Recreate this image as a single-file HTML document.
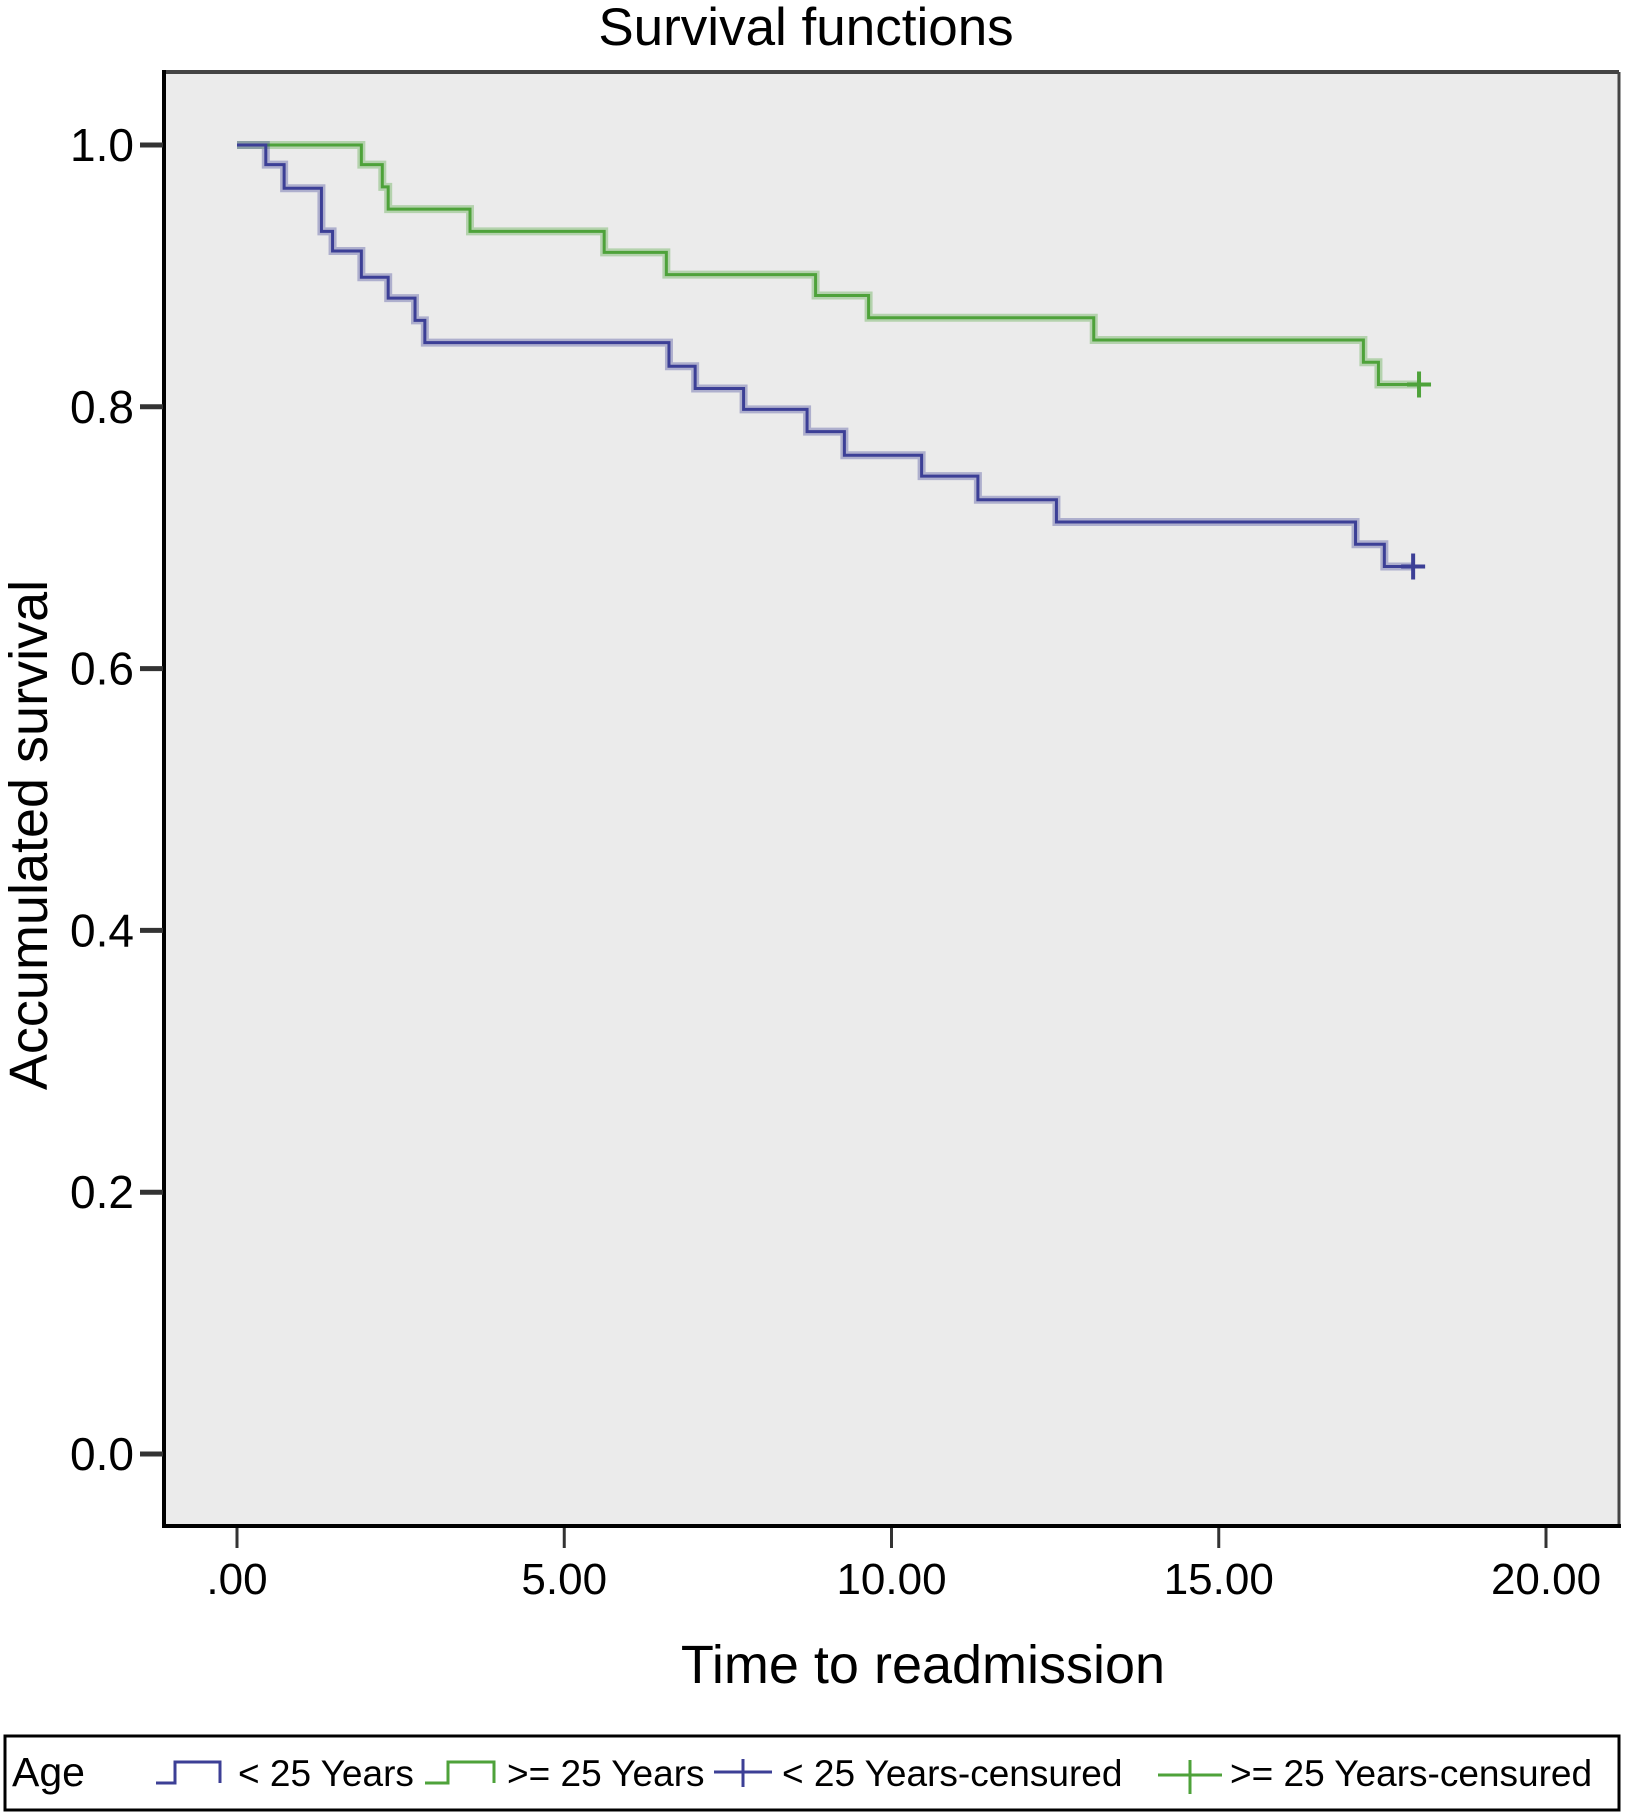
<!DOCTYPE html>
<html><head><meta charset="utf-8"><style>
html,body{margin:0;padding:0;background:#fff;}
svg{display:block;font-family:"Liberation Sans",Arial,sans-serif;}
</style></head><body>
<svg id="chart" width="1625" height="1813" viewBox="0 0 1625 1813" xmlns="http://www.w3.org/2000/svg">
<text x="806" y="45" font-size="53" text-anchor="middle">Survival functions</text>
<rect x="164" y="72" width="1455" height="1454" fill="#ebebeb"/>
<line x1="164" y1="72" x2="1619" y2="72" stroke="#444" stroke-width="4"/>
<line x1="1619" y1="72" x2="1619" y2="1526" stroke="#444" stroke-width="3"/>
<line x1="164" y1="70" x2="164" y2="1528" stroke="#000" stroke-width="4"/>
<line x1="162" y1="1526" x2="1621" y2="1526" stroke="#000" stroke-width="4"/>
<g id="yaxis"></g>
<g id="xaxis"></g>
<g id="series"></g>
<text x="923" y="1683" font-size="54" text-anchor="middle">Time to readmission</text>
<text transform="translate(47,835) rotate(-90)" font-size="54" text-anchor="middle">Accumulated survival</text>
<g>
<rect x="5" y="1736" width="1614" height="74" fill="#fff" stroke="#000" stroke-width="3"/>
<text x="12" y="1786" font-size="41">Age</text>
<path d="M156 1783 H175 V1762 H220 V1783" fill="none" stroke="#3c3f96" stroke-width="3"/>
<text x="238" y="1786" font-size="37">&lt; 25 Years</text>
<path d="M425 1783 H448 V1762 H494 V1783" fill="none" stroke="#4ea23a" stroke-width="3"/>
<text x="507" y="1786" font-size="37">&gt;= 25 Years</text>
<path d="M714 1772 H772 M743 1759 V1787" stroke="#3c3f96" stroke-width="3"/>
<text x="782" y="1786" font-size="37">&lt; 25 Years-censured</text>
<path d="M1158 1775 H1222 M1190 1760 V1794" stroke="#4ea23a" stroke-width="3"/>
<text x="1230" y="1786" font-size="37">&gt;= 25 Years-censured</text>
</g>
</svg>
<script>
const yTicks=[0,0.2,0.4,0.6,0.8,1.0];
const yTickLabels=["0.0","0.2","0.4","0.6","0.8","1.0"];
const xTicks=[0,5,10,15,20];
const xTickLabels=[".00","5.00","10.00","15.00","20.00"];
const under25Times=[0,0.44,0.72,1.29,1.46,1.90,2.31,2.72,2.87,6.60,7.00,7.74,8.71,9.28,10.46,11.32,12.52,17.09,17.53];
const under25Surv=[1,0.985,0.967,0.934,0.919,0.899,0.883,0.866,0.849,0.831,0.814,0.798,0.781,0.763,0.747,0.729,0.712,0.695,0.678];
const under25CensorTime=[17.97];
const under25CensorSurv=[0.678];
const over25Times=[0,1.90,2.22,2.31,3.56,5.61,6.56,8.84,9.65,13.09,17.21,17.44];
const over25Surv=[1,0.985,0.968,0.951,0.934,0.918,0.901,0.885,0.868,0.851,0.834,0.817];
const over25CensorTime=[18.06];
const over25CensorSurv=[0.817];
const NS="http://www.w3.org/2000/svg";
const xs=t=>237+t*(1546-237)/20;
const ys=s=>1454-s*(1454-145);
function mk(tag,attrs,parent){const e=document.createElementNS(NS,tag);for(const k in attrs)e.setAttribute(k,attrs[k]);parent.appendChild(e);return e;}
const ya=document.getElementById('yaxis'),xa=document.getElementById('xaxis'),sg=document.getElementById('series');
yTicks.forEach((v,i)=>{
  const l=mk('line',{x1:140,x2:163,y1:ys(v),y2:ys(v),stroke:'#333','stroke-width':5},ya);
  
  
  const t=mk('text',{x:134,y:ys(v)+16,'font-size':46,'text-anchor':'end'},ya);
  t.textContent=yTickLabels[i];
  
  
});
xTicks.forEach((v,i)=>{
  const l=mk('line',{x1:xs(v),x2:xs(v),y1:1528,y2:1548,stroke:'#333','stroke-width':3},xa);
  
  
  const t=mk('text',{x:xs(v),y:1594,'font-size':44,'text-anchor':'middle'},xa);
  t.textContent=xTickLabels[i];
  
  
});
function stepPath(T,S,endT){let d='M'+xs(T[0])+' '+ys(S[0]);for(let i=1;i<T.length;i++){d+=' H'+xs(T[i])+' V'+ys(S[i]);}d+=' H'+xs(endT);return d;}
function drawSeries(T,S,cT,cS,color,name){
  const d=stepPath(T,S,cT[0]);
  const h=mk('path',{d:d,fill:'none',stroke:color,'stroke-opacity':0.35,'stroke-width':8},sg);
  
  
  const p=mk('path',{d:d,fill:'none',stroke:color,'stroke-width':3},sg);
  
  
  cT.forEach((t,i)=>{
    const x=xs(t),y=ys(cS[i]);
    const c=mk('path',{d:`M${x-12} ${y} H${x+12} M${x} ${y-13} V${y+13}`,stroke:color,'stroke-width':4},sg);
    
    
  });
}
drawSeries(over25Times,over25Surv,over25CensorTime,over25CensorSurv,'#4ea23a','over25');
drawSeries(under25Times,under25Surv,under25CensorTime,under25CensorSurv,'#3c3f96','under25');
</script>
</body></html>
